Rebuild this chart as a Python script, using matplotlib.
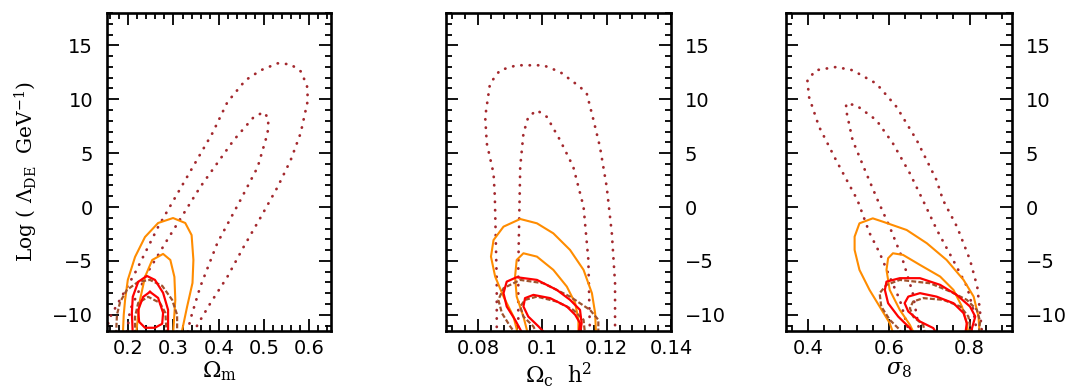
import matplotlib
matplotlib.use('Agg')
import matplotlib.pyplot as plt
from matplotlib.ticker import MultipleLocator

plt.rcParams['mathtext.fontset'] = 'dejavuserif'

# ---- Omega_m panel : (x, log Lambda) points along each contour ----
om_dot_outer = [(0.146, -12.3), (0.159, -10.28), (0.215, -6.11), (0.266, -1.85), (0.326, 2.5),
                (0.386, 6.85), (0.419, 9.72), (0.459, 11.76), (0.493, 12.69), (0.530, 13.33),
                (0.559, 13.24), (0.581, 12.59), (0.595, 11.30), (0.597, 9.91), (0.581, 6.85),
                (0.559, 4.35), (0.530, 1.85), (0.493, -0.93), (0.455, -3.70), (0.419, -6.48),
                (0.382, -8.89), (0.353, -10.93), (0.337, -12.3)]
om_dot_inner = [(0.195, -12.3), (0.204, -9.54), (0.242, -6.11), (0.286, -3.06), (0.359, 1.85),
                (0.433, 6.20), (0.477, 8.33), (0.499, 8.80), (0.510, 8.24), (0.508, 6.85),
                (0.486, 3.70), (0.448, 0.65), (0.397, -3.33), (0.359, -7.41), (0.337, -10.46),
                (0.328, -12.3)]
om_orange_outer = [(0.188, -11.85), (0.190, -10.0), (0.193, -8.61), (0.199, -6.76), (0.215, -4.63),
                   (0.237, -2.78), (0.266, -1.48), (0.299, -1.02), (0.326, -1.48), (0.340, -2.6),
                   (0.344, -4.91), (0.342, -7.04), (0.330, -9.26), (0.317, -11.85)]
om_orange_inner = [(0.217, -11.85), (0.226, -8.61), (0.237, -6.48), (0.253, -4.91), (0.277, -4.35),
                   (0.293, -4.91), (0.302, -6.48), (0.304, -8.61), (0.299, -11.85)]
om_red_outer = [(0.210, -11.85), (0.208, -9.81), (0.210, -8.33), (0.222, -6.94), (0.241, -6.39),
                (0.259, -6.76), (0.277, -7.96), (0.288, -9.54), (0.288, -11.85)]
om_red_inner = [(0.248, -7.87), (0.266, -8.43), (0.277, -9.81), (0.275, -10.83), (0.259, -11.2),
                (0.237, -11.2), (0.224, -10.65), (0.222, -9.54), (0.233, -8.33), (0.248, -7.87)]
om_dash_outer = [(0.173, -11.85), (0.175, -10.0), (0.182, -8.80), (0.197, -7.69), (0.222, -6.94),
                 (0.248, -6.76), (0.275, -7.31), (0.297, -8.61), (0.308, -10.0), (0.308, -11.85)]
om_dash_inner = [(0.215, -11.85), (0.215, -10.19), (0.222, -8.89), (0.244, -8.33), (0.270, -8.89),
                 (0.282, -9.81), (0.285, -11.85)]

# ---- Omega_c h^2 panel ----
oc_dot_outer = [(0.0858, -11.9), (0.0858, -7.0), (0.0852, 1.0), (0.0848, 3.12), (0.0827, 5.9),
                (0.0822, 8.36), (0.0837, 11.45), (0.0868, 12.69), (0.0920, 13.15), (0.1003, 13.15),
                (0.1055, 12.53), (0.1117, 11.14), (0.1138, 10.53), (0.1159, 8.06), (0.1179, 5.58),
                (0.1200, 1.88), (0.1216, -2.44), (0.1226, -7.06), (0.1226, -11.9)]
oc_dot_inner = [(0.0925, -11.9), (0.0925, -5.53), (0.0928, -0.9), (0.0931, 3.73), (0.0941, 6.82),
                (0.0956, 8.36), (0.0983, 8.98), (0.1014, 8.36), (0.1055, 6.20), (0.1096, 3.73),
                (0.1128, 0.03), (0.1143, -4.91), (0.1148, -11.9)]
oc_orange_outer = [(0.0925, -11.9), (0.0910, -10.16), (0.0879, -8.31), (0.0853, -6.45), (0.0840, -4.6),
                   (0.0848, -3.06), (0.0879, -1.82), (0.0931, -1.11), (0.0983, -1.51), (0.1034, -2.44),
                   (0.1086, -3.98), (0.1128, -5.83), (0.1154, -7.99), (0.1164, -9.84), (0.1167, -11.9)]
oc_orange_inner = [(0.0956, -11.9), (0.0941, -10.16), (0.0920, -8.31), (0.0915, -6.45), (0.0920, -4.91),
                   (0.0941, -4.29), (0.0983, -4.6), (0.1034, -5.83), (0.1076, -7.38), (0.1102, -8.92),
                   (0.1112, -10.46), (0.1112, -11.9)]
oc_red_outer = [(0.0941, -11.9), (0.0915, -10.46), (0.0889, -9.23), (0.0879, -7.99), (0.0889, -6.92),
                (0.0920, -6.51), (0.0983, -6.76), (0.1045, -7.69), (0.1086, -8.61), (0.1117, -9.54),
                (0.1122, -10.77), (0.1117, -11.9)]
oc_red_inner = [(0.1014, -11.9), (0.0988, -11.08), (0.0956, -10.16), (0.0941, -9.23), (0.0946, -8.45),
                (0.0972, -8.15), (0.1024, -8.45), (0.1076, -9.23), (0.1102, -10.0), (0.1117, -10.77),
                (0.1112, -11.9)]
oc_dash_outer = [(0.0920, -11.9), (0.0900, -11.08), (0.0874, -9.84), (0.0863, -8.61), (0.0879, -7.53),
                 (0.0931, -6.76), (0.1003, -7.07), (0.1086, -8.31), (0.1148, -9.54), (0.1174, -10.46),
                 (0.1174, -11.9)]
oc_dash_inner = [(0.0985, -11.9), (0.0972, -11.08), (0.0941, -10.16), (0.0931, -9.23), (0.0946, -8.61),
                 (0.0983, -8.31), (0.1045, -8.77), (0.1096, -9.54), (0.1128, -10.46), (0.1133, -11.9)]

# ---- sigma_8 panel ----
s8_dot_outer = [(0.652, -11.85), (0.627, -8.61), (0.602, -6.48), (0.577, -4.26), (0.552, -2.41),
                (0.522, 0.65), (0.469, 4.35), (0.427, 7.44), (0.402, 10.21), (0.398, 11.76),
                (0.419, 12.69), (0.469, 12.99), (0.510, 12.69), (0.569, 11.45), (0.619, 9.29),
                (0.669, 6.20), (0.718, 2.5), (0.734, 0.65), (0.769, -1.85), (0.801, -4.91),
                (0.819, -7.41), (0.826, -9.81), (0.831, -11.85)]
s8_dot_inner = [(0.677, -11.85), (0.659, -7.96), (0.632, -4.63), (0.602, -1.85), (0.572, 0.65),
                (0.544, 3.12), (0.510, 6.20), (0.494, 8.98), (0.494, 9.60), (0.519, 9.44),
                (0.569, 8.06), (0.610, 5.90), (0.652, 3.12), (0.684, 0.65), (0.719, -2.13),
                (0.759, -4.91), (0.794, -7.41), (0.809, -9.54), (0.819, -11.85)]
s8_orange_outer = [(0.612, -11.85), (0.602, -10.77), (0.577, -9.23), (0.552, -7.69), (0.527, -5.83),
                   (0.515, -3.98), (0.515, -2.75), (0.527, -1.51), (0.560, -1.05), (0.585, -1.36),
                   (0.644, -2.13), (0.694, -3.36), (0.743, -4.91), (0.785, -6.76), (0.810, -8.31),
                   (0.822, -10.16), (0.825, -11.85)]
s8_orange_inner = [(0.664, -11.85), (0.652, -10.93), (0.627, -9.54), (0.602, -7.69), (0.594, -5.83),
                   (0.598, -4.75), (0.610, -4.29), (0.635, -4.44), (0.677, -5.37), (0.727, -6.45),
                   (0.760, -7.69), (0.781, -9.23), (0.793, -10.77), (0.797, -11.85)]
s8_red_outer = [(0.660, -11.85), (0.652, -11.23), (0.623, -10.16), (0.598, -8.92), (0.590, -7.69),
                (0.594, -6.92), (0.627, -6.6), (0.677, -6.6), (0.727, -7.22), (0.768, -8.15),
                (0.801, -9.23), (0.814, -10.16), (0.806, -11.23), (0.804, -11.85)]
s8_red_inner = [(0.720, -11.85), (0.710, -11.23), (0.677, -10.62), (0.648, -9.69), (0.639, -8.92),
                (0.648, -8.31), (0.677, -7.99), (0.718, -8.31), (0.760, -8.92), (0.785, -9.84),
                (0.793, -10.77), (0.789, -11.85)]
s8_dash_outer = [(0.632, -11.85), (0.627, -11.39), (0.602, -10.46), (0.581, -9.23), (0.577, -7.99),
                 (0.594, -7.22), (0.627, -6.76), (0.702, -7.07), (0.752, -7.84), (0.793, -8.61),
                 (0.818, -9.54), (0.826, -10.62), (0.822, -11.85)]
s8_dash_inner = [(0.690, -11.85), (0.685, -10.93), (0.660, -10.16), (0.652, -9.38), (0.660, -8.77),
                 (0.685, -8.45), (0.735, -8.61), (0.777, -9.23), (0.797, -10.16), (0.801, -11.08),
                 (0.800, -11.85)]

panels = [
    ([om_dot_outer, om_dot_inner], [om_orange_outer, om_orange_inner],
     [om_dash_outer, om_dash_inner], [om_red_outer, om_red_inner]),
    ([oc_dot_outer, oc_dot_inner], [oc_orange_outer, oc_orange_inner],
     [oc_dash_outer, oc_dash_inner], [oc_red_outer, oc_red_inner]),
    ([s8_dot_outer, s8_dot_inner], [s8_orange_outer, s8_orange_inner],
     [s8_dash_outer, s8_dash_inner], [s8_red_outer, s8_red_inner]),
]
xlims = [(0.153, 0.648), (0.07, 0.14), (0.345, 0.905)]
xminor = [0.02, 0.004, 0.04]
xticklabels = [['0.2', '0.3', '0.4', '0.5', '0.6'],
               ['0.08', '0.1', '0.12', '0.14'],
               ['0.4', '0.6', '0.8']]
xtickvals = [[0.2, 0.3, 0.4, 0.5, 0.6], [0.08, 0.1, 0.12, 0.14], [0.4, 0.6, 0.8]]
xlabels = [r'$\Omega_{\rm m}$', r'$\Omega_{\rm c}\ \ {\rm h}^{2}$', r'$\sigma_{8}$']
lefts = [0.0999, 0.4164, 0.7339]
widths = [0.2091, 0.2101, 0.211]

fig = plt.figure(figsize=(10.71, 3.88), dpi=100)

for i in range(3):
    ax = fig.add_axes([lefts[i], 0.1469, widths[i], 0.8196])
    dots, oranges, dashes, reds = panels[i]
    for c in dots:
        ax.plot([p[0] for p in c], [p[1] for p in c], color='#a3282d', lw=2.0,
                linestyle=(0, (0.1, 2.9)), dash_capstyle='round')
    for c in oranges:
        ax.plot([p[0] for p in c], [p[1] for p in c], color='#ff8c00', lw=1.5)
    for c in dashes:
        ax.plot([p[0] for p in c], [p[1] for p in c], color='#a0522d', lw=1.6,
                linestyle=(0, (2.2, 1.0)))
    for c in reds:
        ax.plot([p[0] for p in c], [p[1] for p in c], color='#ff0000', lw=1.6)

    ax.set_xlim(*xlims[i])
    ax.set_ylim(-11.5, 18)
    ax.set_xticks(xtickvals[i])
    ax.set_xticklabels(xticklabels[i])
    ax.xaxis.set_minor_locator(MultipleLocator(xminor[i]))
    ax.yaxis.set_major_locator(MultipleLocator(5))
    ax.yaxis.set_minor_locator(MultipleLocator(1))
    ax.tick_params(which='both', direction='in', top=True, right=True, width=1.3,
                   labelsize=14)
    ax.tick_params(which='major', length=8.5)
    ax.tick_params(which='minor', length=4.3)
    ax.tick_params(axis='x', pad=6)
    ax.tick_params(axis='y', pad=10)
    for s in ax.spines.values():
        s.set_linewidth(1.9)
    if i == 0:
        ax.set_ylabel(r'Log ( $\Lambda_{\rm DE}$  GeV$^{-1}$)', family='DejaVu Serif',
                      fontsize=14.5, labelpad=9)
    else:
        ax.tick_params(axis='y', labelleft=False, labelright=True)
    ax.set_xlabel(xlabels[i], fontsize=16, labelpad=1)

fig.savefig('out.png', dpi=100)
